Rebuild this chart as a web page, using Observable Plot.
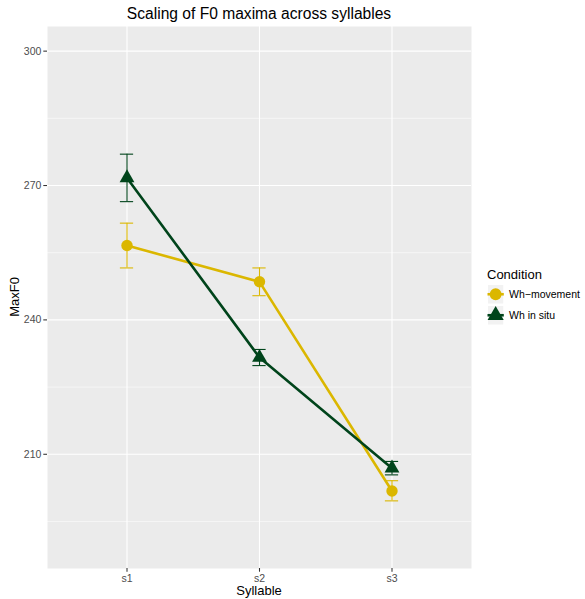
<!DOCTYPE html>
<html><head><meta charset="utf-8">
<script src="https://cdn.jsdelivr.net/npm/d3@7"></script>
<script src="https://cdn.jsdelivr.net/npm/@observablehq/plot@0.6"></script>
<style>
body{margin:0;background:#fff;}
#wrap{position:relative;width:585px;height:599px;font-family:"Liberation Sans",Arial,Helvetica,sans-serif;color:#000;}
#wrap svg.plot{position:absolute;left:0;top:0;}
.abs{position:absolute;white-space:nowrap;line-height:1;}
</style></head><body><div id="wrap"></div>
<script>
const syllables = ["s1", "s2", "s3"];
const conditions = ["Wh\u2212movement", "Wh in situ"];
const colors = ["#dbb700", "#00441b"];
const symbols = ["circle", "triangle"];
const whMovementMean = [256.6, 248.5, 201.8];
const whMovementLow  = [251.6, 245.4, 199.6];
const whMovementHigh = [261.6, 251.6, 204.1];
const whInSituMean = [271.7, 231.6, 206.9];
const whInSituLow  = [266.4, 229.8, 205.4];
const whInSituHigh = [277.0, 233.4, 208.4];
const yTicks = [210, 240, 270, 300];
const yMinor = [195, 225, 255, 285];
const titleText = "Scaling of F0 maxima across syllables";
const xTitle = "Syllable";
const yTitle = "MaxF0";
const legendTitle = "Condition";

const series = [
  {cond: conditions[0], mean: whMovementMean, lo: whMovementLow, hi: whMovementHigh},
  {cond: conditions[1], mean: whInSituMean, lo: whInSituLow, hi: whInSituHigh}
];
const rows = series.flatMap(s => syllables.map((syl, i) => ({
  syl, xi: i + 1, cond: s.cond, mean: s.mean[i], lo: s.lo[i], hi: s.hi[i]
})));
const xIdx = syllables.map((_, i) => i + 1);

const font = '"Liberation Sans",Arial,Helvetica,sans-serif';
const W = 585, H = 599;
const mL = 47, mR = 114, mT = 26, mB = 31;

const chart = Plot.plot({
  width: W, height: H,
  marginLeft: mL, marginRight: mR, marginTop: mT, marginBottom: mB,
  style: {fontFamily: font, background: "transparent", overflow: "visible"},
  x: {type: "linear", domain: [0.4, 3.6], axis: null},
  y: {type: "linear", domain: [184.5, 305.5], axis: null},
  color: {domain: conditions, range: colors},
  symbol: {domain: conditions, range: symbols},
  marks: [
    Plot.frame({fill: "#ebebeb", stroke: "none"}),
    Plot.ruleY(yMinor, {stroke: "#fff", strokeWidth: 0.55}),
    Plot.ruleY(yTicks, {stroke: "#fff", strokeWidth: 1.1}),
    Plot.ruleX(xIdx, {stroke: "#fff", strokeWidth: 1.1}),
    Plot.axisY(yTicks, {anchor: "left", tickSize: 3.7, tickPadding: 2.4, stroke: "#333", fill: "#4d4d4d", fontSize: 10.5, label: null, strokeWidth: 1.07}),
    Plot.axisX(xIdx, {anchor: "bottom", tickSize: 3.7, tickPadding: 2.4, stroke: "#333", fill: "#4d4d4d", fontSize: 10.5, label: null, strokeWidth: 1.07, tickFormat: d => syllables[d - 1]}),
    Plot.ruleX(rows, {x: "xi", y1: "lo", y2: "hi", stroke: "cond", strokeWidth: 1.1}),
    Plot.ruleY(rows, {y: "hi", x1: d => d.xi - 0.05, x2: d => d.xi + 0.05, stroke: "cond", strokeWidth: 1.1}),
    Plot.ruleY(rows, {y: "lo", x1: d => d.xi - 0.05, x2: d => d.xi + 0.05, stroke: "cond", strokeWidth: 1.1}),
    Plot.line(rows, {x: "xi", y: "mean", z: "cond", stroke: "cond", strokeWidth: 2.6}),
    Plot.dot(rows.filter(d => d.cond === conditions[0]), {x: "xi", y: "mean", fill: "cond", symbol: "cond", r: 5.7, stroke: "none"}),
    Plot.dot(rows.filter(d => d.cond === conditions[1]), {x: "xi", y: "mean", fill: "cond", symbol: "cond", r: 5.5, stroke: "none"})
  ]
});
const wrap = document.getElementById("wrap");
wrap.appendChild(chart);

const panelCx = mL + (W - mL - mR) / 2;
const panelCy = mT + (H - mT - mB) / 2;
function addText(txt, css) {
  const d = document.createElement("div");
  d.className = "abs";
  d.textContent = txt;
  Object.assign(d.style, css);
  wrap.appendChild(d);
  return d;
}
addText(titleText, {left: panelCx + "px", top: "6px", fontSize: "15.6px", transform: "translateX(-50%)"});
addText(xTitle, {left: panelCx + "px", top: "584px", fontSize: "13px", transform: "translateX(-50%)"});
addText(yTitle, {left: "14px", top: panelCy + "px", fontSize: "13px", transform: "translate(-50%,-50%) rotate(-90deg)"});

// legend
const lgX = 487, lgY = 267.5, key = 20.5;
addText(legendTitle, {left: lgX + "px", top: lgY + "px", fontSize: "13px"});
const ns = "http://www.w3.org/2000/svg";
conditions.forEach((c, i) => {
  const top = 284 + i * key;
  const svg = document.createElementNS(ns, "svg");
  svg.setAttribute("width", 17.3); svg.setAttribute("height", key);
  svg.style.position = "absolute"; svg.style.left = lgX + "px"; svg.style.top = top + "px";
  const rect = document.createElementNS(ns, "rect");
  rect.setAttribute("x", 0.5); rect.setAttribute("y", 0.5); rect.setAttribute("width", 16.3); rect.setAttribute("height", key - 1);
  rect.setAttribute("fill", "#f2f2f2"); rect.setAttribute("stroke", "#fff");
  svg.appendChild(rect);
  const cy = key / 2;
  const ln = document.createElementNS(ns, "line");
  ln.setAttribute("x1", 0.5); ln.setAttribute("x2", 16.8); ln.setAttribute("y1", cy); ln.setAttribute("y2", cy);
  ln.setAttribute("stroke", colors[i]); ln.setAttribute("stroke-width", 2.6);
  svg.appendChild(ln);
  const p = document.createElementNS(ns, "path");
  const sym = symbols[i] === "circle" ? d3.symbolCircle : d3.symbolTriangle;
  const r = symbols[i] === "circle" ? 5.9 : 6;
  p.setAttribute("d", d3.symbol(sym, Math.PI * r * r)());
  p.setAttribute("transform", `translate(8.65,${cy})`);
  p.setAttribute("fill", colors[i]);
  svg.appendChild(p);
  wrap.appendChild(svg);
  addText(c, {left: (lgX + 22) + "px", top: (top + cy) + "px", fontSize: "10.5px", transform: "translateY(-50%)"});
});
</script></body></html>
